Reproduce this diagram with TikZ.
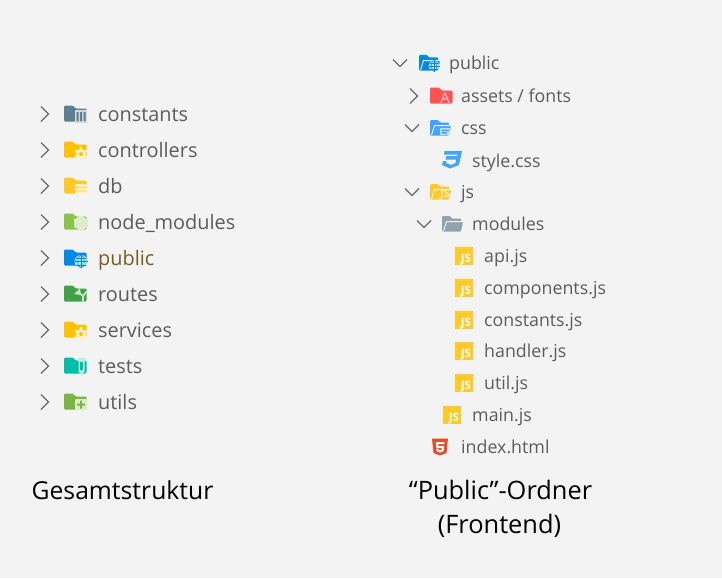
\documentclass[tikz,border=0pt]{standalone}
\usepackage{fontspec}
\setmainfont{Open Sans}
\definecolor{bgc}{HTML}{F3F3F3}
\definecolor{txt}{HTML}{5C5C5C}
\definecolor{mod}{HTML}{7A5C20}
\definecolor{chev}{HTML}{6A6A6A}
\definecolor{jsy}{HTML}{FFCA28}
\definecolor{cslate}{HTML}{5F7F90}
\definecolor{cslatel}{HTML}{CFD8DC}
\definecolor{camber}{HTML}{FFC107}
\definecolor{cambl}{HTML}{FFF2C4}
\definecolor{cdb}{HTML}{FFCA28}
\definecolor{cgreen}{HTML}{8BC34A}
\definecolor{cgreenl}{HTML}{DCEDC8}
\definecolor{cblue}{HTML}{0288E8}
\definecolor{cbluel}{HTML}{B3E0FA}
\definecolor{croute}{HTML}{43A047}
\definecolor{croutel}{HTML}{C8E6C9}
\definecolor{cteal}{HTML}{00BFA5}
\definecolor{ctealb}{HTML}{B2F0E6}
\definecolor{cutil}{HTML}{7CB342}
\definecolor{cred}{HTML}{FF5252}
\definecolor{credl}{HTML}{FFCDD2}
\definecolor{ccss}{HTML}{42A5F5}
\definecolor{ccssl}{HTML}{BBDEFB}
\definecolor{cgrey}{HTML}{90A4AE}
\definecolor{chtml}{HTML}{E44D26}
\tikzset{
  x=1pt,y=-1pt,
  lbl/.style={anchor=base west,inner sep=0pt,text=txt,font=\fontsize{19.9}{22}\selectfont},
  rlbl/.style={anchor=base west,inner sep=0pt,text=txt,font=\fontsize{17.8}{22}\selectfont},
  captext/.style={anchor=base,inner sep=0pt,text=black,font=\fontsize{#1}{30}\selectfont},
  chevline/.style={draw=chev,line width=1.3pt},
}
\newcommand{\fold}[3]{\fill[#3,rounded corners=1.2pt] (#1,#2-8.5) -- (#1+9,#2-8.5) -- (#1+11.5,#2-5.5) -- (#1+22.5,#2-5.5) -- (#1+22.5,#2+7.5) -- (#1,#2+7.5) -- cycle;}
\newcommand{\ofold}[3]{\fill[#3,rounded corners=1pt] (#1,#2-8) -- (#1+8,#2-8) -- (#1+10,#2-5.5) -- (#1+19,#2-5.5) -- (#1+19,#2-2) -- (#1+21,#2-2) -- (#1+19,#2+7.5) -- (#1,#2+7.5) -- cycle;
  \draw[bgc,line width=.9pt] (#1+1.5,#2+7) -- (#1+4.5,#2-2.4) -- (#1+20,#2-2.4);}
\newcommand{\chevr}[2]{\draw[chevline] (#1,#2-7.5) -- (#1+7.5,#2) -- (#1,#2+7.5);}
\newcommand{\chevd}[2]{\draw[chevline] (#1,#2-3.5) -- (#1+7,#2+3.5) -- (#1+14,#2-3.5);}
\newcommand{\jsq}[2]{\fill[jsy] (#1,#2-9) rectangle (#1+18,#2+9);
  \node[inner sep=0pt,text=white,font=\bfseries\fontsize{11.5}{12}\selectfont] at (#1+11,#2+3.7) {JS};}
\newcommand{\globe}[3]{\fill[cbluel] (#1,#2) circle (#3);
  \draw[cblue,line width=.45pt] (#1-#3,#2) -- (#1+#3,#2) (#1,#2-#3) -- (#1,#2+#3) (#1-#3*.8,#2-#3*.5) -- (#1+#3*.8,#2-#3*.5) (#1-#3*.8,#2+#3*.5) -- (#1+#3*.8,#2+#3*.5);
  \draw[cblue,line width=.45pt] (#1,#2) ellipse ({#3*.5} and #3);}
\newcommand{\gear}[2]{\fill[cambl] (#1,#2) circle (5);
  \foreach \a in {30,90,...,330}{\fill[cambl] (#1,#2) ++(\a:5.6) circle (1.6);}
  \fill[camber] (#1,#2) circle (2);}
\begin{document}
\begin{tikzpicture}
\useasboundingbox[fill=bgc] (0,0) rectangle (722,578);
% ---- left column ----
\foreach \yy in {114,150,186,222,258,294,330,366,402} {\chevr{41}{\yy}}
% constants
\fold{64}{114}{cslate}
\fill[cslatel] (75,110) rectangle (87,122.5);
\fill[cslate] (76.5,112) rectangle (78.5,121) (80,112) rectangle (82,121) (83.5,112) rectangle (85.5,121);
% controllers
\fold{64}{150}{camber}\gear{81}{154}
% db
\fold{64}{186}{cdb}
\fill[cambl,rounded corners=2pt] (75,184) rectangle (87,194.5);
\fill[cdb] (75,186.8) rectangle (87,187.6) (75,190.6) rectangle (87,191.4);
% node_modules
\fold{64}{222}{cgreen}
\fill[cgreenl] (81,215.5) -- (88,219.5) -- (88,227) -- (81,231) -- (74,227) -- (74,219.5) -- cycle;
% public
\fold{64}{258}{cblue}\globe{81}{261.5}{6.5}
% routes
\fold{64}{294}{croute}
\draw[croutel,line width=1.8pt] (83,302) -- (83,296) -- (78,292) (83,296) -- (87,291);
\fill[croutel] (74,294) -- (80,288.5) -- (81,295) -- cycle;
% services
\fold{64}{330}{camber}\gear{81}{334}
% tests
\fold{64}{366}{cteal}
\fill[ctealb] (77.5,358) rectangle (85.5,361) (78.5,361) rectangle (84.5,372) ;
\fill[ctealb] (78.5,371) -- (84.5,371) -- (81.5,376) -- cycle;
\fill[cteal] (80,362) rectangle (83,370);
% utils
\fold{64}{402}{cutil}
\fill[cgreenl,rounded corners=1pt] (75,399) rectangle (87,410);
\fill[cutil] (80,400.5) rectangle (82,408.5) (77,403.5) rectangle (85,405.5);
% left labels
\node[lbl] (constants) at (98,121) {constants};
\node[lbl] (controllers) at (98,157) {controllers};
\node[lbl] (db) at (98,193) {db};
\node[lbl] (nodemodules) at (98,229) {node\_modules};
\node[lbl,text=mod] (publicl) at (98,265) {public};
\node[lbl] (routes) at (98,301) {routes};
\node[lbl] (services) at (98,337) {services};
\node[lbl] (tests) at (98,373) {tests};
\node[lbl] (utils) at (98,409) {utils};
% ---- right column ----
\chevd{393}{63}\chevr{410}{96}\chevd{405}{128}\chevd{405}{192}\chevd{417}{224}
% public
\ofold{419}{63}{cblue}\globe{434}{66}{5.5}
% assets
\fold{430}{96}{cred}
\node[inner sep=0pt,text=credl,font=\fontsize{15}{15}\selectfont] at (445,98.5) {A};
% css
\ofold{430}{128}{ccss}
\fill[ccssl] (440,128) rectangle (450,135);
\fill[ccss] (441.5,129.5) rectangle (449,131) (441.5,132) rectangle (447,133.5);
% style.css
\fill[ccss] (444.5,151) -- (462,151) -- (459,165) -- (450,168.5) -- (442,165) -- (443,161) -- (446.5,161) -- (446,163) -- (451,165) -- (455.5,163) -- (456.3,159.5) -- (445.5,159.5) -- (446.3,156) -- (457,156) -- (457.7,154.5) -- (444,154.5) -- cycle;
% js
\ofold{430}{192}{jsy}
\node[inner sep=0pt,text=cambl,font=\bfseries\fontsize{11}{11}\selectfont] at (445,195) {JS};
% modules
\ofold{442}{224}{cgrey}
% js files
\jsq{455}{256}\jsq{455}{288}\jsq{455}{320}\jsq{455}{351}\jsq{455}{383}\jsq{443}{415}
% html
\fill[chtml] (432,438.5) -- (448,438.5) -- (446.5,453) -- (440,455.5) -- (433.5,453) -- cycle;
\fill[white] (436,442) -- (444.5,442) -- (444.3,444) -- (438.3,444) -- (438.5,446) -- (444.2,446) -- (443.6,451) -- (440,452.5) -- (436.6,451) -- (436.4,448.8) -- (438.3,448.8) -- (438.4,449.8) -- (440,450.4) -- (441.7,449.8) -- (441.9,448) -- (436.5,448) -- cycle;
% right labels
\node[rlbl] (pub) at (449,69.5) {public};
\node[rlbl] (assets) at (461,102) {assets / fonts};
\node[rlbl] (css) at (461,134) {css};
\node[rlbl] (style) at (472,167) {style.css};
\node[rlbl] (js) at (461,198) {js};
\node[rlbl] (modules) at (472,230.5) {modules};
\node[rlbl] (api) at (484,262.5) {api.js};
\node[rlbl] (components) at (484,294.5) {components.js};
\node[rlbl] (constantsjs) at (484,326.5) {constants.js};
\node[rlbl] (handler) at (484,357.5) {handler.js};
\node[rlbl] (util) at (484,389.5) {util.js};
\node[rlbl] (main) at (472,421.5) {main.js};
\node[rlbl] (index) at (461,453.5) {index.html};
% captions
\node[captext=24.7] (gesamt) at (122.5,499) {Gesamtstruktur};
\node[captext=25.4] (pubord) at (500.5,499) {“Public”-Ordner};
\node[captext=25.4] (front) at (499.5,533) {(Frontend)};
\end{tikzpicture}
\end{document}
